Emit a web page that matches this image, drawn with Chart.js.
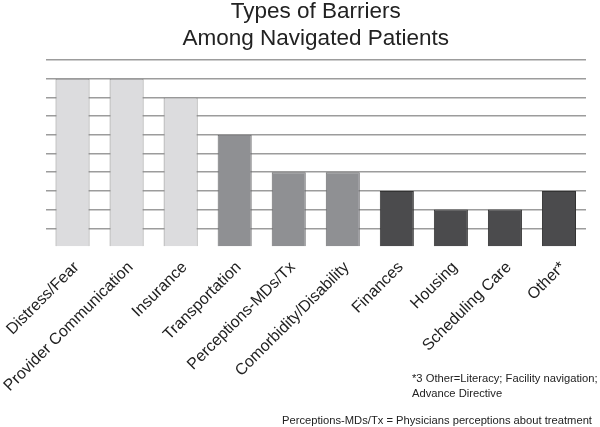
<!DOCTYPE html>
<html>
<head>
<meta charset="utf-8">
<script src="https://cdn.jsdelivr.net/npm/chart.js@4"></script>
<style>
  body { margin: 0; background: #fff; }
  #wrap { position: relative; width: 600px; height: 427px; }
  .note {
    position: absolute;
    font-family: "Liberation Sans", Arial, sans-serif;
    font-size: 11.2px;
    color: #222;
    line-height: 15px;
    white-space: nowrap;
  }
</style>
</head>
<body>
<div id="wrap">
  <canvas id="barriers" width="600" height="427"></canvas>
  <div class="note" style="left:412px; top:371px;">*3 Other=Literacy; Facility navigation;<br>Advance Directive</div>
  <div class="note" style="left:282px; top:413px;">Perceptions-MDs/Tx = Physicians perceptions about treatment</div>
</div>
<script>
// barrier categories and patient counts
const barriers = ['Distress/Fear', 'Provider Communication', 'Insurance', 'Transportation',
  'Perceptions-MDs/Tx', 'Comorbidity/Disability', 'Finances', 'Housing', 'Scheduling Care', 'Other*'];
const counts = [9, 9, 8, 6, 4, 4, 3, 2, 2, 3];
const fills = ['#dcdcde', '#dcdcde', '#dcdcde', '#8f9093', '#8f9093', '#8f9093',
  '#4b4b4d', '#4b4b4d', '#4b4b4d', '#4b4b4d'];
const edges = ['#8a8a8a', '#8a8a8a', '#8a8a8a', '#6a6a6c', '#6a6a6c', '#6a6a6c',
  '#333333', '#333333', '#333333', '#333333'];

const font = "'Liberation Sans', Arial, sans-serif";

const ctx = document.getElementById('barriers');
const chart = new Chart(ctx, {
  type: 'bar',
  data: {
    labels: barriers,
    datasets: [{
      data: counts,
      backgroundColor: fills,
      borderColor: edges,
      borderWidth: 1,
      barPercentage: 0.63,
      categoryPercentage: 1
    }]
  },
  options: {
    responsive: false,
    animation: false,
    layout: { padding: { left: 0, right: 14, top: 0, bottom: 0 } },
    plugins: {
      legend: { display: false },
      tooltip: { enabled: false },
      title: {
        display: true,
        fullSize: false,
        text: ['Types of Barriers', 'Among Navigated Patients'],
        color: '#222',
        font: { family: font, size: 22.5, weight: 'normal', lineHeight: 1.2 },
        padding: { top: -2, bottom: 8 }
      }
    },
    scales: {
      x: {
        grid: { display: false },
        border: { display: false },
        ticks: {
          color: '#222',
          font: { family: font, size: 16 },
          minRotation: 45,
          maxRotation: 45,
          padding: 3,
          labelOffset: 4
        },
        afterFit: (scale) => { scale.height = 180; }
      },
      y: {
        min: 0,
        max: 10,
        border: { display: false },
        ticks: { display: false, stepSize: 1 },
        grid: {
          drawTicks: false,
          lineWidth: 1.5,
          color: (c) => c.tick && c.tick.value === 0 ? 'rgba(0,0,0,0)' : '#9c9c9c'
        },
        afterFit: (scale) => { scale.width = 45; }
      }
    }
  }
});
</script>
</body>
</html>
